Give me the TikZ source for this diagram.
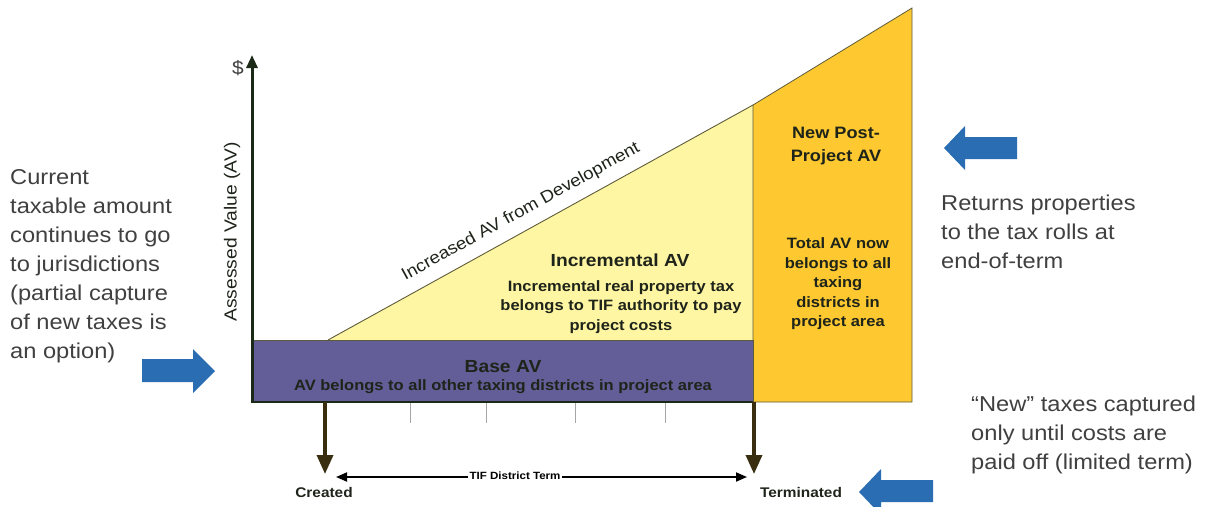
\documentclass[tikz,border=0pt]{standalone}
\usepackage{fontspec}
\setmainfont{Liberation Sans}[FakeStretch=1.1]
\usetikzlibrary{arrows.meta}
\definecolor{basepurple}{HTML}{635E98}
\definecolor{incyellow}{HTML}{FFF6A3}
\definecolor{postorange}{HTML}{FDC830}
\definecolor{edgeolive}{HTML}{5E5B3A}
\definecolor{axisdark}{HTML}{1B2A16}
\definecolor{downbrown}{HTML}{3A2E10}
\definecolor{inktext}{HTML}{1E241A}
\definecolor{greytext}{HTML}{404040}
\definecolor{bluearrow}{HTML}{2A6DB3}
\tikzset{
  note/.style={font=\fontsize{21.5}{29}\selectfont, text=greytext, align=left, inner sep=0pt, anchor=north west},
  boldlbl/.style={font=\bfseries\fontsize{15}{19.5}\selectfont, text=inktext, align=center, inner sep=0pt},
  titlelbl/.style={font=\bfseries\fontsize{17.5}{23}\selectfont, text=inktext, align=center, inner sep=0pt},
  region/.style={draw=edgeolive, line width=0.8pt},
  downarrow/.style={draw=downbrown, line width=3.5pt, -{Triangle[width=16pt,length=19pt]}},
  tick/.style={draw=gray!70, line width=1pt},
  bigarrow/.style={fill=bluearrow}
}
\begin{document}
\begin{tikzpicture}[x=1pt,y=-1pt]
\useasboundingbox (0,0) rectangle (1206,506);
% regions
\fill[incyellow] (328,340) -- (753,105) -- (753,340) -- cycle;
\draw[edgeolive, line width=0.9pt] (328,340) -- (753,105);
\draw[region, fill=postorange] (753,105) -- (912,8) -- (912,402) -- (753,402) -- cycle;
\draw[region, fill=basepurple] (252,340) rectangle (753,402);
% ticks
\foreach \tx in {410,486,575,665} \draw[tick] (\tx,402) -- (\tx,423);
% axis
\coordinate (origin) at (252,403);
\coordinate (ytop) at (252,55);
\draw[axisdark, line width=3pt, -{Triangle[width=11pt,length=13pt]}] (origin) -- (ytop);
\draw[axisdark, line width=2pt] (252,402) -- (753,402);
\node[font=\fontsize{19}{19}\selectfont, text=greytext] (dollar) at (238,68) {\$};
\node[font=\fontsize{17.5}{18}\selectfont, text=inktext, rotate=90] (ylabel) at (232,232) {Assessed Value (AV)};
% labels in regions
\node[font=\fontsize{17}{18}\selectfont, text=inktext, rotate=28.9] (slope) at (521,212) {Increased AV from Development};
\node[titlelbl] (inctitle) at (620,260) {Incremental AV};
\node[boldlbl] (inctext) at (621,307) {Incremental real property tax\\belongs to TIF authority to pay\\project costs};
\node[titlelbl] (basetitle) at (503,367) {Base AV};
\node[boldlbl] (basetext) at (503,387) {AV belongs to all other taxing districts in project area};
\node[titlelbl, font=\bfseries\fontsize{16.5}{23}\selectfont] (posttitle) at (836,146) {New Post-\\Project AV};
\node[boldlbl] (posttext) at (838,284) {Total AV now\\belongs to all\\taxing\\districts in\\project area};
% time markers
\coordinate (cstart) at (325,402);
\coordinate (tstart) at (754,402);
\node[font=\bfseries\fontsize{14}{14}\selectfont, text=inktext] (created) at (324,492) {Created};
\node[font=\bfseries\fontsize{14}{14}\selectfont, text=inktext] (terminated) at (801,492) {Terminated};
\coordinate (cend) at (325,474);
\coordinate (tend) at (754,474);
\draw[downarrow] (cstart) -- (cend);
\draw[downarrow] (tstart) -- (tend);
\coordinate (termL) at (336,477);
\coordinate (termR) at (747,477);
\draw[black, line width=1.8pt, {Triangle[width=9pt,length=11pt]}-{Triangle[width=9pt,length=11pt]}] (termL) -- (termR);
\node[fill=white, inner sep=2pt, font=\bfseries\fontsize{10.5}{11}\selectfont] (termlbl) at (515,476) {TIF District Term};
% side notes
\node[note] (leftnote) at (10,169) {Current\\taxable amount\\continues to go\\to jurisdictions\\(partial capture\\of new taxes is\\an option)};
\node[note] (rightnote) at (941,195) {Returns properties\\to the tax rolls at\\end-of-term};
\node[note] (bottomnote) at (971,396) {“New” taxes captured\\only until costs are\\paid off (limited term)};
% blue arrows
\fill[bigarrow] (142,359) -- (193,359) -- (193,349) -- (215,371) -- (193,393) -- (193,382) -- (142,382) -- cycle;
\fill[bigarrow] (1017,137) -- (965,137) -- (965,126) -- (944,148) -- (965,170) -- (965,159) -- (1017,159) -- cycle;
\fill[bigarrow] (933,480) -- (881,480) -- (881,469) -- (859,492) -- (881,515) -- (881,502) -- (933,502) -- cycle;
\end{tikzpicture}
\end{document}
